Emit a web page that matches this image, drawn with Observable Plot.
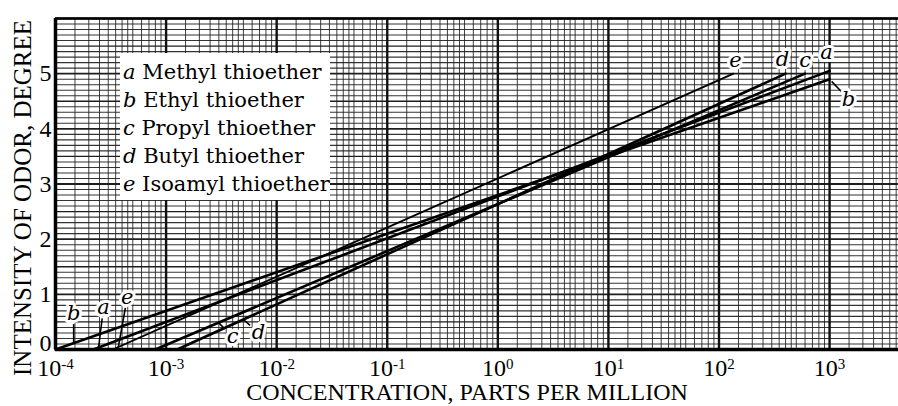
<!DOCTYPE html>
<html><head><meta charset="utf-8">
<script src="https://cdn.jsdelivr.net/npm/d3@7"></script>
<script src="https://cdn.jsdelivr.net/npm/@observablehq/plot@0.6"></script>
<style>
html,body{margin:0;padding:0;background:#fff;}
</style>
</head><body><div id="chart"></div>
<script>
// ---- data ----
const letters = ["a", "b", "c", "d", "e"];
const compounds = ["Methyl thioether", "Ethyl thioether", "Propyl thioether", "Butyl thioether", "Isoamyl thioether"];
const startConc = [2.2e-4, 1.0e-4, 8.0e-4, 1.26e-3, 3.3e-4];
const startIntensity = [0, 0, 0, 0, 0];
const endConc = [1000, 1000, 600, 400, 135];
const endIntensity = [5.05, 4.9, 5.0, 5.0, 5.0];
const leaderConc = [2.45e-4, 1.46e-4, 2.98e-3, 5.0e-3, 3.7e-4];
const xTicks = [1e-4, 1e-3, 1e-2, 1e-1, 1, 10, 100, 1000];
const xTickExponents = ["-4", "-3", "-2", "-1", "0", "1", "2", "3"];
const yTicks = [0, 1, 2, 3, 4, 5];
const gridSubdivisions = [1, 1.5, 2, 2.5, 3, 3.5, 4, 4.5, 5, 6, 7, 8, 9];
const gridDecades = [-4, -3, -2, -1, 0, 1, 2, 3];
const xTitle = "CONCENTRATION, PARTS PER MILLION";
const yTitle = "INTENSITY OF ODOR, DEGREE";

// ---- layout ----
const W = 898, H = 406, mL = 55, mR = 0, mT = 18, mB = 57;
const xDomain = [1e-4, 4200];
const yDomain = [0, 6];
const sx = Plot.scale({x: {type: "log", domain: xDomain, range: [mL, W - mR]}});
const sy = Plot.scale({y: {type: "linear", domain: yDomain, range: [H - mB, mT]}});

const lineRows = letters.flatMap((l, i) => [
  {letter: l, conc: startConc[i], intensity: startIntensity[i]},
  {letter: l, conc: endConc[i], intensity: endIntensity[i]}
]);
function intensityAt(i, c) {
  const a = Math.log10(startConc[i]), b = Math.log10(endConc[i]);
  const t = (Math.log10(c) - a) / (b - a);
  return startIntensity[i] + t * (endIntensity[i] - startIntensity[i]);
}
const startOffsets = {a: [5, -40], b: [0, -30], c: [14, 14], d: [15, 13], e: [9, -50]};
const endOffsets = {a: [-3, -19], b: [19, 20], c: [0, -13], d: [-3, -14], e: [2, -13]};
const labelRows = [], leaderRows = [];
letters.forEach((l, i) => {
  const c0 = leaderConc[i], v0 = intensityAt(i, c0);
  const px = sx.apply(c0), py = sy.apply(v0);
  const [dx, dy] = startOffsets[l];
  labelRows.push({letter: l, conc: sx.invert(px + dx), intensity: sy.invert(py + dy)});
  const len = Math.hypot(dx, dy), k = (len - 11) / len;
  leaderRows.push({x1: c0, y1: v0, x2: sx.invert(px + dx * k), y2: sy.invert(py + dy * k)});
  const ex = sx.apply(endConc[i]), ey = sy.apply(endIntensity[i]);
  const [edx, edy] = endOffsets[l];
  labelRows.push({letter: l, conc: sx.invert(ex + edx), intensity: sy.invert(ey + edy)});
  if (l === "b") {
    const el = Math.hypot(edx, edy), k2 = (el - 10) / el, k1 = 3 / el;
    leaderRows.push({x1: sx.invert(ex + edx * k1), y1: sy.invert(ey + edy * k1),
                     x2: sx.invert(ex + edx * k2), y2: sy.invert(ey + edy * k2)});
  }
});

const vGrid = gridDecades.flatMap(d => gridSubdivisions.map(s => ({v: s * Math.pow(10, d), major: s === 1})))
  .filter(g => g.v <= xDomain[1]);
const hGrid = d3.range(0, 61).map(i => ({v: i / 10, kind: i % 10 === 0 ? 2 : (i % 5 === 0 ? 1 : 0)}));

const gridColor = "#1e1e1e";
const plot = Plot.plot({
  width: W, height: H,
  marginLeft: mL, marginRight: mR, marginTop: mT, marginBottom: mB,
  style: {fontFamily: "Liberation Serif", fontSize: "24px", color: "black", background: "white"},
  x: {type: "log", domain: xDomain, ticks: xTicks, tickFormat: () => "10", tickSize: 0, tickPadding: 9, label: null},
  y: {domain: yDomain, ticks: yTicks, tickFormat: d3.format("d"), tickSize: 0, tickPadding: 4, label: null},
  marks: [
    Plot.ruleX(vGrid.filter(g => !g.major), {x: "v", stroke: gridColor, strokeWidth: 1, strokeOpacity: 0.85}),
    Plot.ruleY(hGrid.filter(g => g.kind === 0), {y: "v", stroke: gridColor, strokeWidth: 1.1, strokeOpacity: 0.9}),
    Plot.ruleY(hGrid.filter(g => g.kind === 1), {y: "v", stroke: gridColor, strokeWidth: 1.4}),
    Plot.ruleY(hGrid.filter(g => g.kind === 2), {y: "v", stroke: gridColor, strokeWidth: 1.8}),
    Plot.ruleX(vGrid.filter(g => g.major), {x: "v", stroke: "#111", strokeWidth: 2.4}),
    Plot.ruleX([xDomain[0]], {stroke: "#000", strokeWidth: 3.5}),
    Plot.ruleY([yDomain[0]], {stroke: "#000", strokeWidth: 3.5}),
    Plot.ruleY([yDomain[1]], {stroke: "#000", strokeWidth: 2.5}),
    Plot.line(lineRows.filter(r => r.letter !== "e"), {x: "conc", y: "intensity", z: "letter", stroke: "#000", strokeWidth: 2.6}),
    Plot.line(lineRows.filter(r => r.letter === "e"), {x: "conc", y: "intensity", z: "letter", stroke: "#000", strokeWidth: 1.9}),
    Plot.link(leaderRows, {x1: "x1", y1: "y1", x2: "x2", y2: "y2", stroke: "#000", strokeWidth: 1.6}),
    Plot.text(labelRows, {x: "conc", y: "intensity", text: "letter", fontFamily: "DejaVu Serif", fontStyle: "italic",
      fontSize: 21, fill: "#000", stroke: "white", strokeWidth: 6}),
    Plot.text([xTitle], {frameAnchor: "bottom", dx: -10, dy: 43, lineAnchor: "middle", fontSize: 24, fontFamily: "Liberation Serif"})
  ]
});

const svg = d3.select(plot);
// superscript exponents on the x tick labels
svg.selectAll('g[aria-label="x-axis tick label"] text').each(function(d, i) {
  const t = d3.select(this);
  t.text("10");
  t.append("tspan").attr("font-size", "15px").attr("dy", "-7").text(xTickExponents[i]);
});
// lift the "0" tick label slightly, as in the original
svg.selectAll('g[aria-label="y-axis tick label"] text').each(function() {
  if (this.textContent.trim() === "0") {
    const t = d3.select(this);
    const tr = t.attr("transform");
    t.attr("transform", (tr ? tr + " " : "") + "translate(0,-6)");
  }
});

// y-axis title
svg.append("text")
  .attr("transform", `translate(22,${(mT + H) / 2 - 14}) rotate(-90)`)
  .attr("text-anchor", "middle").attr("dy", "0.35em")
  .attr("font-family", "Liberation Serif").attr("font-size", 25).attr("fill", "black")
  .text(yTitle);

// legend box
const lg = svg.append("g").attr("font-family", "DejaVu Serif").attr("font-size", 21).attr("text-anchor", "start");
lg.append("rect").attr("x", 120).attr("y", 53).attr("width", 210).attr("height", 147).attr("fill", "white");
compounds.forEach((name, i) => {
  const t = lg.append("text").attr("x", 123).attr("y", 79 + i * 28).attr("fill", "black").attr("text-anchor", "start");
  t.append("tspan").attr("font-style", "italic").text(letters[i]);
  t.append("tspan").text(" " + name);
});

document.getElementById("chart").appendChild(plot);
</script>
</body></html>
